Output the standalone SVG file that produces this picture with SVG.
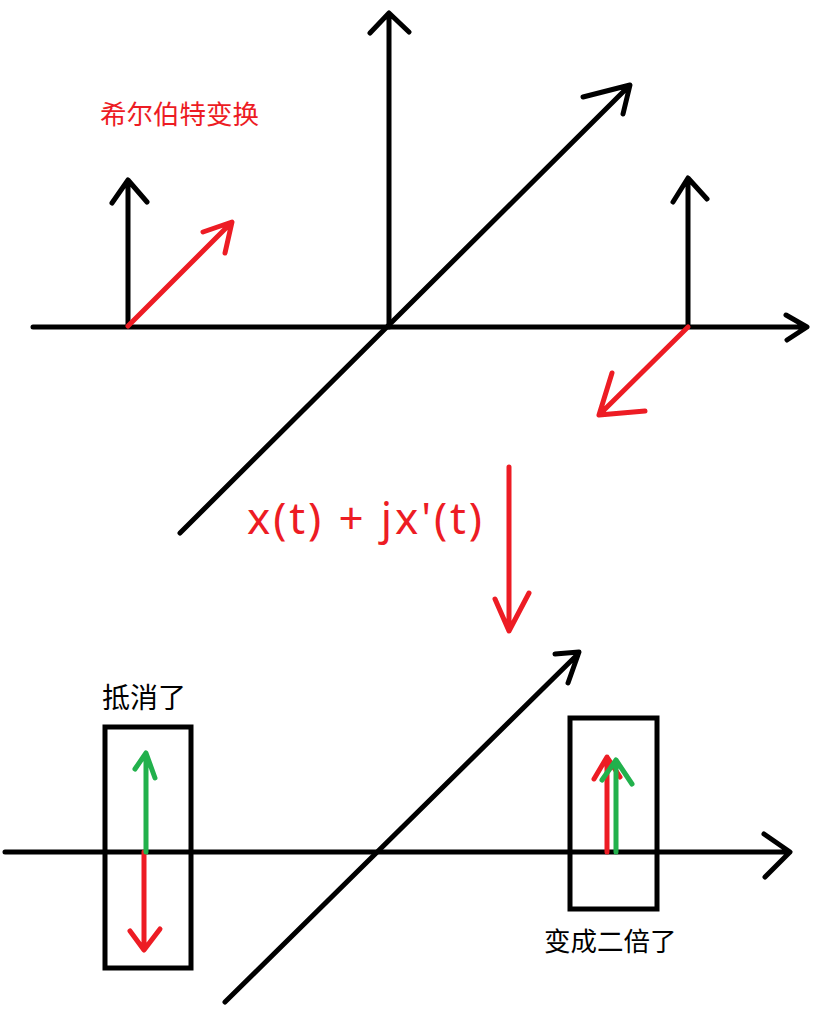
<svg xmlns="http://www.w3.org/2000/svg" width="833" height="1026" viewBox="0 0 833 1026">
<style>
.k{stroke:#000;stroke-width:5;fill:none;stroke-linecap:round;stroke-linejoin:round}
.r{stroke:#ED1C24;stroke-width:5;fill:none;stroke-linecap:round;stroke-linejoin:round}
.g{stroke:#22B14C;stroke-width:5;fill:none;stroke-linecap:round;stroke-linejoin:round}
.box{stroke:#000;stroke-width:5;fill:none}
.cjk{font-family:"Noto Sans CJK SC","Noto Sans",sans-serif}
</style>
<rect width="833" height="1026" fill="#fff"/>
<g id="connectors">
<path class="k" d="M33,327 H806 M786,315 L807,327 L787,340"/>
<path class="k" d="M389,327 V14 M370,33 L389,13 L409,32"/>
<path class="k" d="M180,533 L629,86 M583,97 L630,85 L623,114"/>
<path class="k" d="M128,326 V181 M112,203 L128,180 L147,202"/>
<path class="r" d="M128,326 L231,223 M203,232 L232,222 L225,253"/>
<path class="k" d="M688,326 V179 M673,202 L688,178 L707,199"/>
<path class="r" d="M688,327 L600,414 M612,373 L599,415 L645,411"/>
<path class="r" d="M509,467 V630 M495,599 L509,631 L529,593"/>
<path class="k" d="M5,852 H789 M764,834 L790,852 L765,877"/>
<path class="k" d="M225,1002 L578,654 M555,654 L579,652 L568,683"/>
<path class="r" d="M144,852 V949 M130,931 L144,950 L160,929"/>
<path class="g" d="M146,852 V754 M135,769 L146,753 L155,778"/>
<path class="r" d="M607,852 V758 M594,779 L607,757 L620,777"/>
<path class="g" d="M616,852 V761 M602,780 L616,760 L632,784"/>
</g>
<g id="title">
<text x="100" y="124" class="cjk" font-size="26.5" fill="#ED1C24">希尔伯特变换</text>
</g>
<g id="formula">
<text x="247" y="534" font-family="Noto Sans, sans-serif" font-size="44" fill="#ED1C24" textLength="235" lengthAdjust="spacing">x(t) + jx'(t)</text>
</g>
<g id="cancel-box">
<rect class="box" x="105" y="727" width="86" height="241"/>
<text x="102" y="708" class="cjk" font-size="28" fill="#000">抵消了</text>
</g>
<g id="double-box">
<rect class="box" x="570" y="718" width="87" height="191"/>
<text x="544" y="951" class="cjk" font-size="26.5" fill="#000">变成二倍了</text>
</g>
</svg>
